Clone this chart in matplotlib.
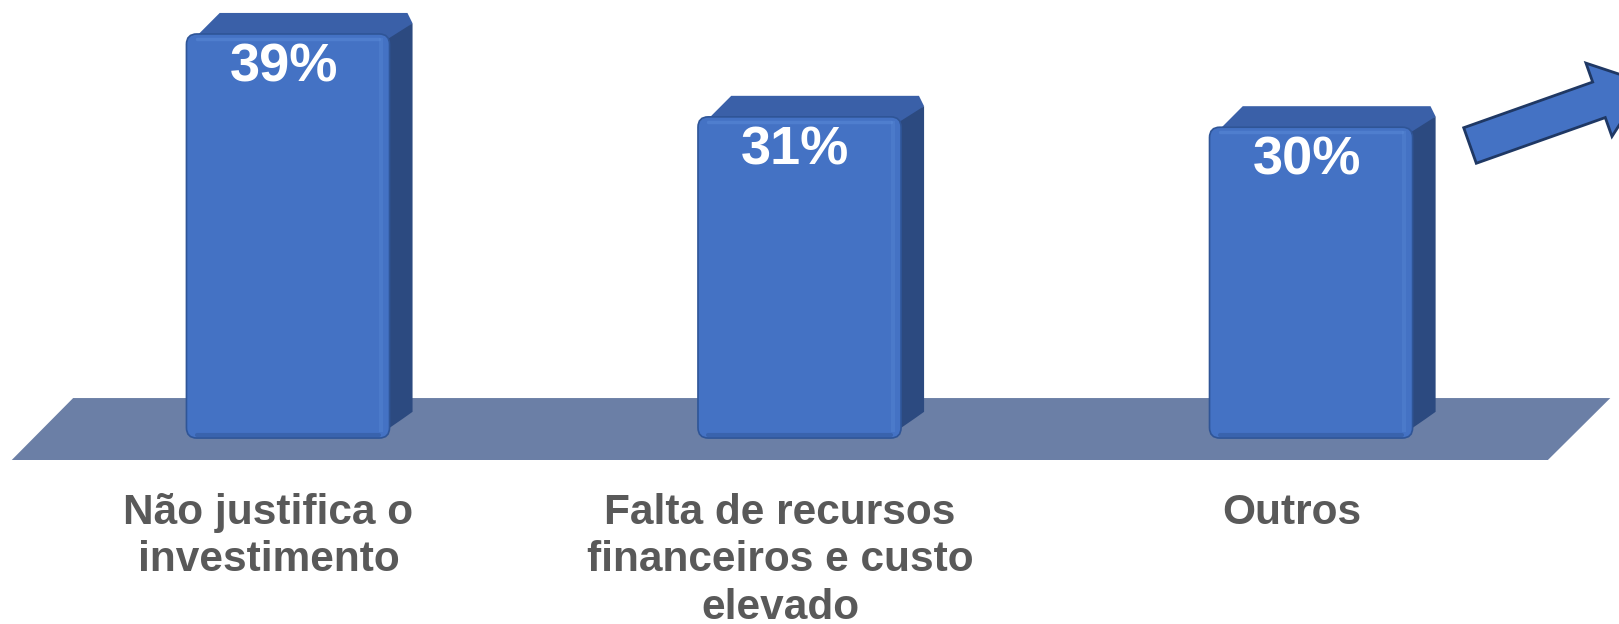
import matplotlib.pyplot as plt
from matplotlib.patches import FancyBboxPatch, Polygon, FancyArrow

plt.rcParams['font.family'] = ['Liberation Sans', 'DejaVu Sans']

# dados
categorias = ['Não justifica o\ninvestimento',
              'Falta de recursos\nfinanceiros e custo\nelevado',
              'Outros']
valores = [39, 31, 30]
rotulos = ['39%', '31%', '30%']

FRENTE = '#4472C4'
TOPO = '#3A60A8'
LADO = '#2C4A80'
PISO = '#6B7FA6'
TEXTO = '#595959'

fig = plt.figure(figsize=(16.19, 6.24), dpi=100)
ax = fig.add_axes([0, 0, 1, 1])
ax.set_xlim(-0.563, 2.602)
ax.set_ylim(-17.95, 42.28)
ax.axis('off')

# piso em perspectiva
piso = Polygon([(-0.540, -2.12), (-0.420, 3.86), (2.585, 3.86), (2.463, -2.12)],
               closed=True, facecolor=PISO, edgecolor='none', zorder=1)
ax.add_patch(piso)

largura = 0.397
dx, dy = 0.045, 2.03   # profundidade
rx, ry = 0.02, 1.0     # canto arredondado

for i, (v, rot, cat) in enumerate(zip(valores, rotulos, categorias)):
    x0 = i - largura / 2
    x1 = i + largura / 2
    # topo
    ax.add_patch(Polygon([(x0 + rx, v - 0.2), (x0 + dx + rx, v + dy), (x1 + dx - rx * 0.5, v + dy),
                          (x1 + dx, v + dy - ry), (x1, v - ry)],
                         closed=True, facecolor=TOPO, edgecolor='none', zorder=2))
    # lateral
    ax.add_patch(Polygon([(x1 - rx, v - ry), (x1 + dx, v + dy - ry), (x1 + dx, dy + ry * 0.5),
                          (x1 + dx - rx, dy - 0.2), (x1 - rx, 0.3)],
                         closed=True, facecolor=LADO, edgecolor='none', zorder=2))
    # frente
    ax.add_patch(FancyBboxPatch((x0, 0), largura, v,
                                boxstyle=f'round,pad=0,rounding_size={rx}',
                                mutation_aspect=ry / rx,
                                facecolor=FRENTE, edgecolor='#2F5597', linewidth=1.2, zorder=3))
    # brilho suave nas bordas
    ax.plot([x0 + 0.02, x1 - 0.02], [v - 0.45, v - 0.45], color='#5A8AD8', lw=2.5, alpha=0.5, zorder=4,
            solid_capstyle='round')
    ax.plot([x1 - 0.016, x1 - 0.016], [0.8, v - 0.6], color='#5A8AD8', lw=3, alpha=0.35, zorder=4)
    ax.plot([x0 + 0.02, x1 - 0.02], [0.25, 0.25], color='#2F5597', lw=3, alpha=0.5, zorder=4,
            solid_capstyle='round')

    ax.text(i - 0.008, v - 0.8, rot, ha='center', va='top', color='white',
            fontsize=39, fontweight='bold', zorder=5)
    ax.text(i - 0.038, -5.3, cat, ha='center', va='top', color=TEXTO,
            fontsize=30.5, fontweight='bold', linespacing=1.235, zorder=5)

# seta de tendência
seta = FancyArrow(14.70, 4.785, 1.761, 0.624, width=0.377, head_width=0.778, head_length=0.5,
                  length_includes_head=True, facecolor=FRENTE, edgecolor='#1F3864', linewidth=2,
                  transform=fig.dpi_scale_trans, clip_on=False)
fig.add_artist(seta)

fig.savefig('out.png', dpi=100)
